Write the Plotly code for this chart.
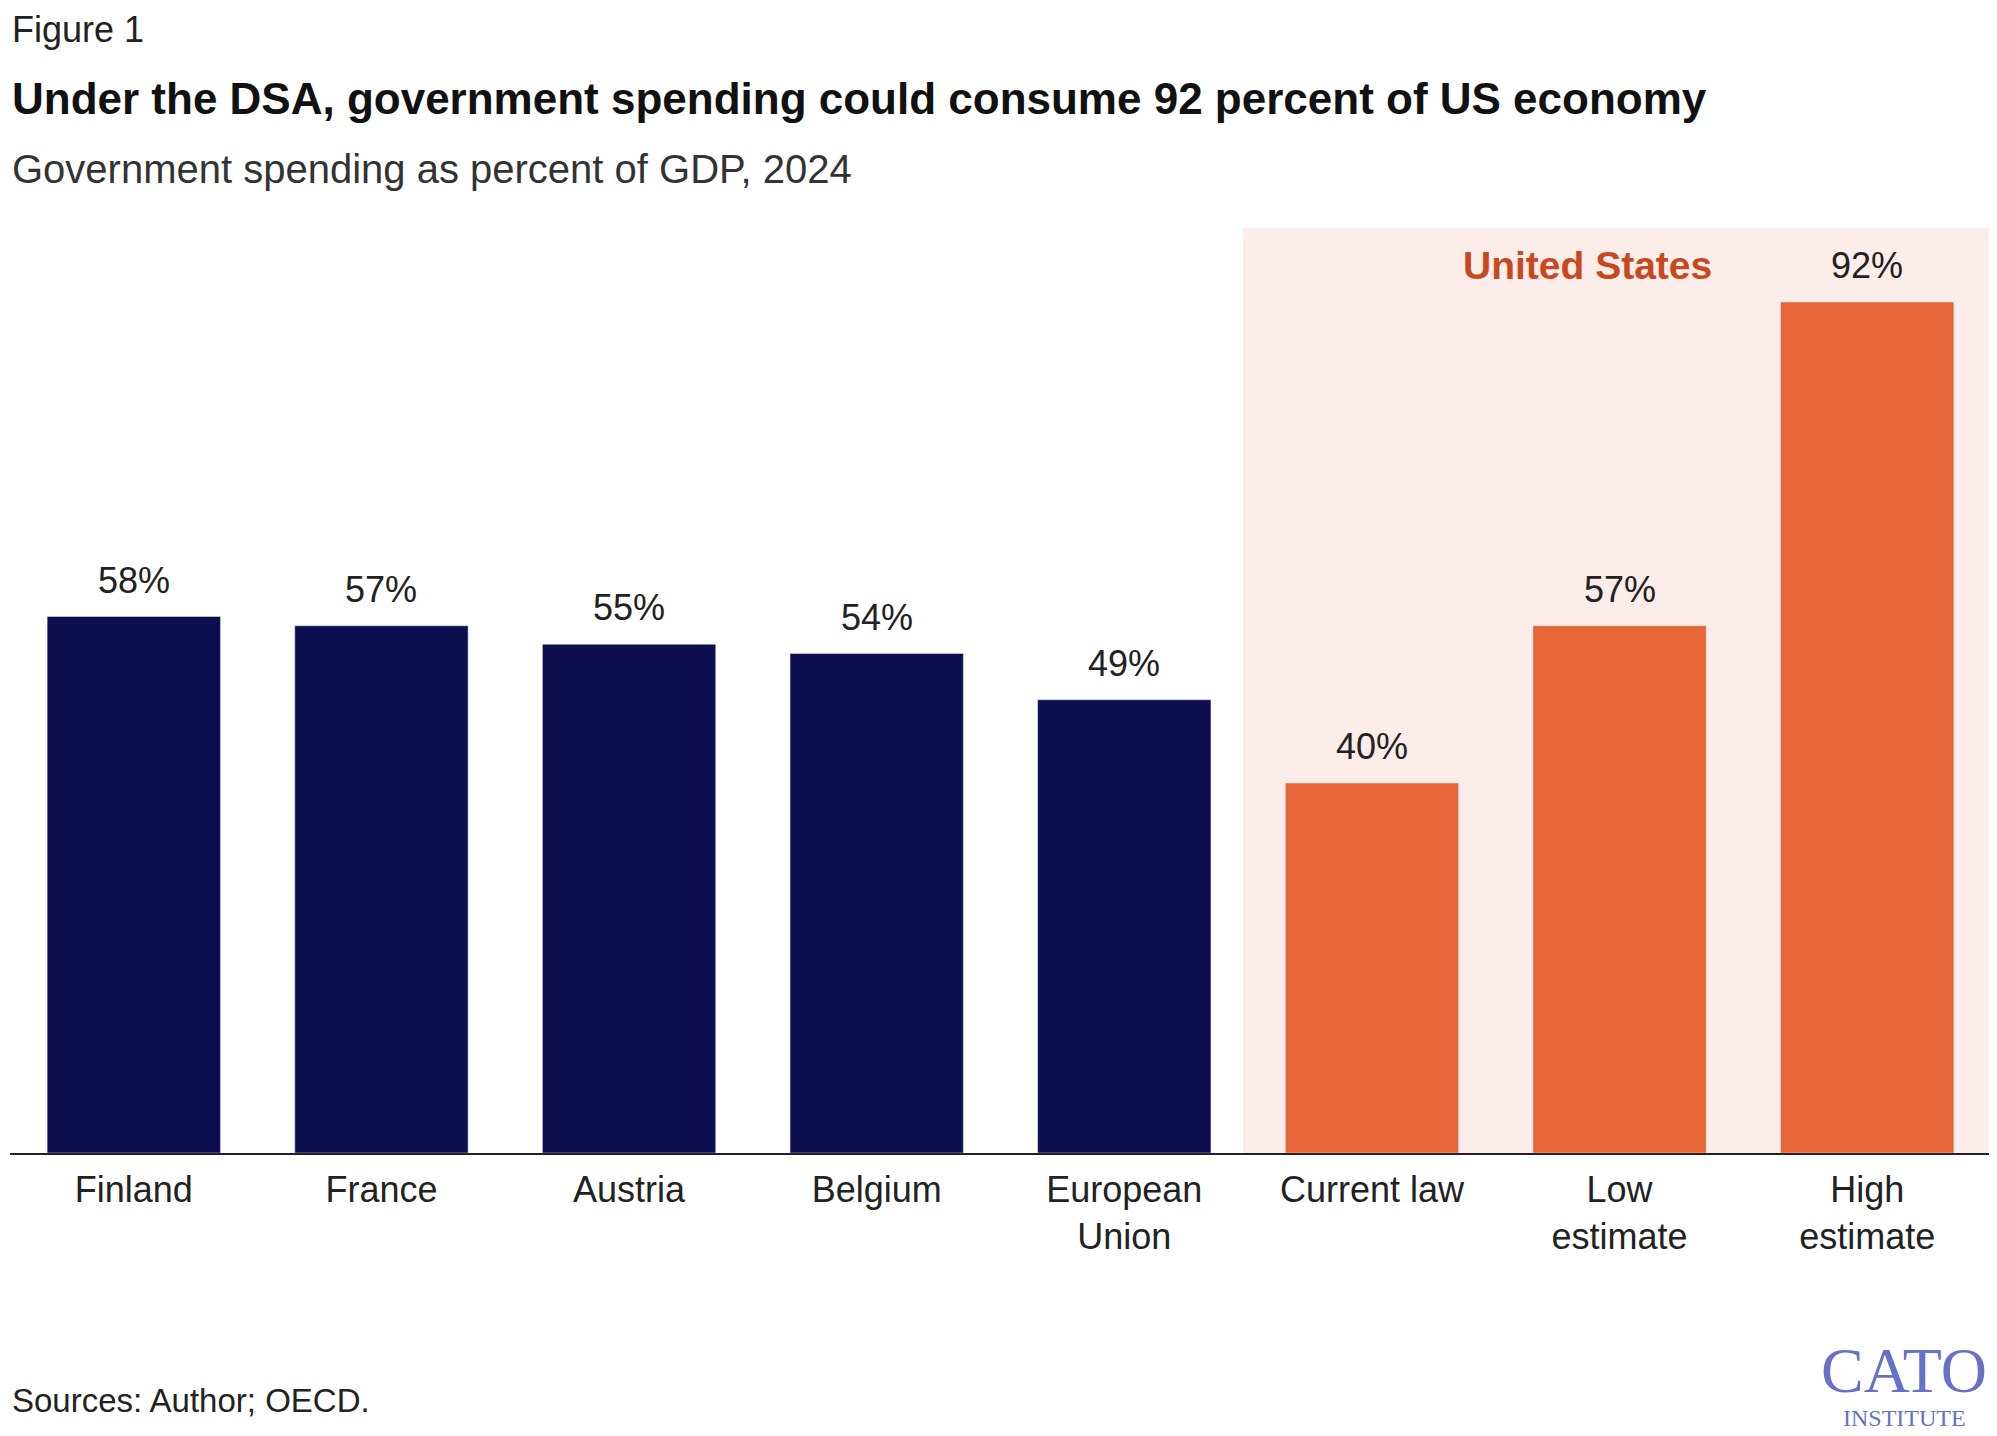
import plotly.graph_objects as go

categories = ["Finland", "France", "Austria", "Belgium", "European<br>Union",
              "Current law", "Low<br>estimate", "High<br>estimate"]
values = [58, 57, 55, 54, 49, 40, 57, 92]
labels = ["58%", "57%", "55%", "54%", "49%", "40%", "57%", "92%"]
colors = ["#0d0e4f"] * 5 + ["#e66638"] * 3

F = "Liberation Sans"
xs = list(range(len(categories)))
fig = go.Figure(go.Bar(
    x=xs, y=values, marker_color=colors, width=0.7, hoverinfo="skip"))

for x, v, t in zip(xs, values, labels):
    fig.add_annotation(x=x, y=v, xref="x", yref="y", text=t, showarrow=False,
                       yanchor="bottom", yshift=14, font=dict(size=36, color="#222", family=F))

fig.add_shape(type="rect", xref="x", yref="y", x0=4.48, x1=7.49, y0=0, y1=100,
              fillcolor="#fcecea", line_width=0, layer="below")

fig.add_annotation(x=5.87, y=95.9, xref="x", yref="y", text="<b>United States</b>",
                   showarrow=False, font=dict(size=39, color="#c8491e", family=F))

L, R, T, B = 2, 14, 220, 291
fig.update_layout(
    width=1997, height=1436, margin=dict(l=L, r=R, t=T, b=B),
    plot_bgcolor="white", paper_bgcolor="white", showlegend=False,
    xaxis=dict(range=[-0.5, 7.5], tickvals=xs, ticktext=categories,
               showline=True, linecolor="#222", linewidth=2, ticks="", showgrid=False,
               tickfont=dict(size=36, color="#222", family=F), ticklabelstandoff=4),
    yaxis=dict(range=[0, 100], visible=False),
)

def txt(x, y, s, size, color="#222", xanchor="left", family=F):
    fig.add_annotation(x=x, y=y, xref="paper", yref="paper", text=s, showarrow=False,
                       xanchor=xanchor, yanchor="middle", font=dict(size=size, color=color, family=family))

W, H = 1997, 1436
def px(xp): return (xp - L) / (W - L - R)
def py(yp): return (H - B - yp) / (H - B - T)

txt(px(2), py(22), "Figure 1", 36)
txt(px(2), py(90), "<b>Under the DSA, government spending could consume 92 percent of US economy</b>", 44, "#111")
txt(px(2), py(161), "Government spending as percent of GDP, 2024", 40, "#333")
txt(px(2), py(1392), "Sources: Author; OECD.", 33)
txt(px(1896), py(1362), "CATO", 64, "#6672c8", "center", "Liberation Serif")
txt(px(1896), py(1410), "INSTITUTE", 24, "#6672c8", "center", "Liberation Serif")

fig.write_html("out.html")
